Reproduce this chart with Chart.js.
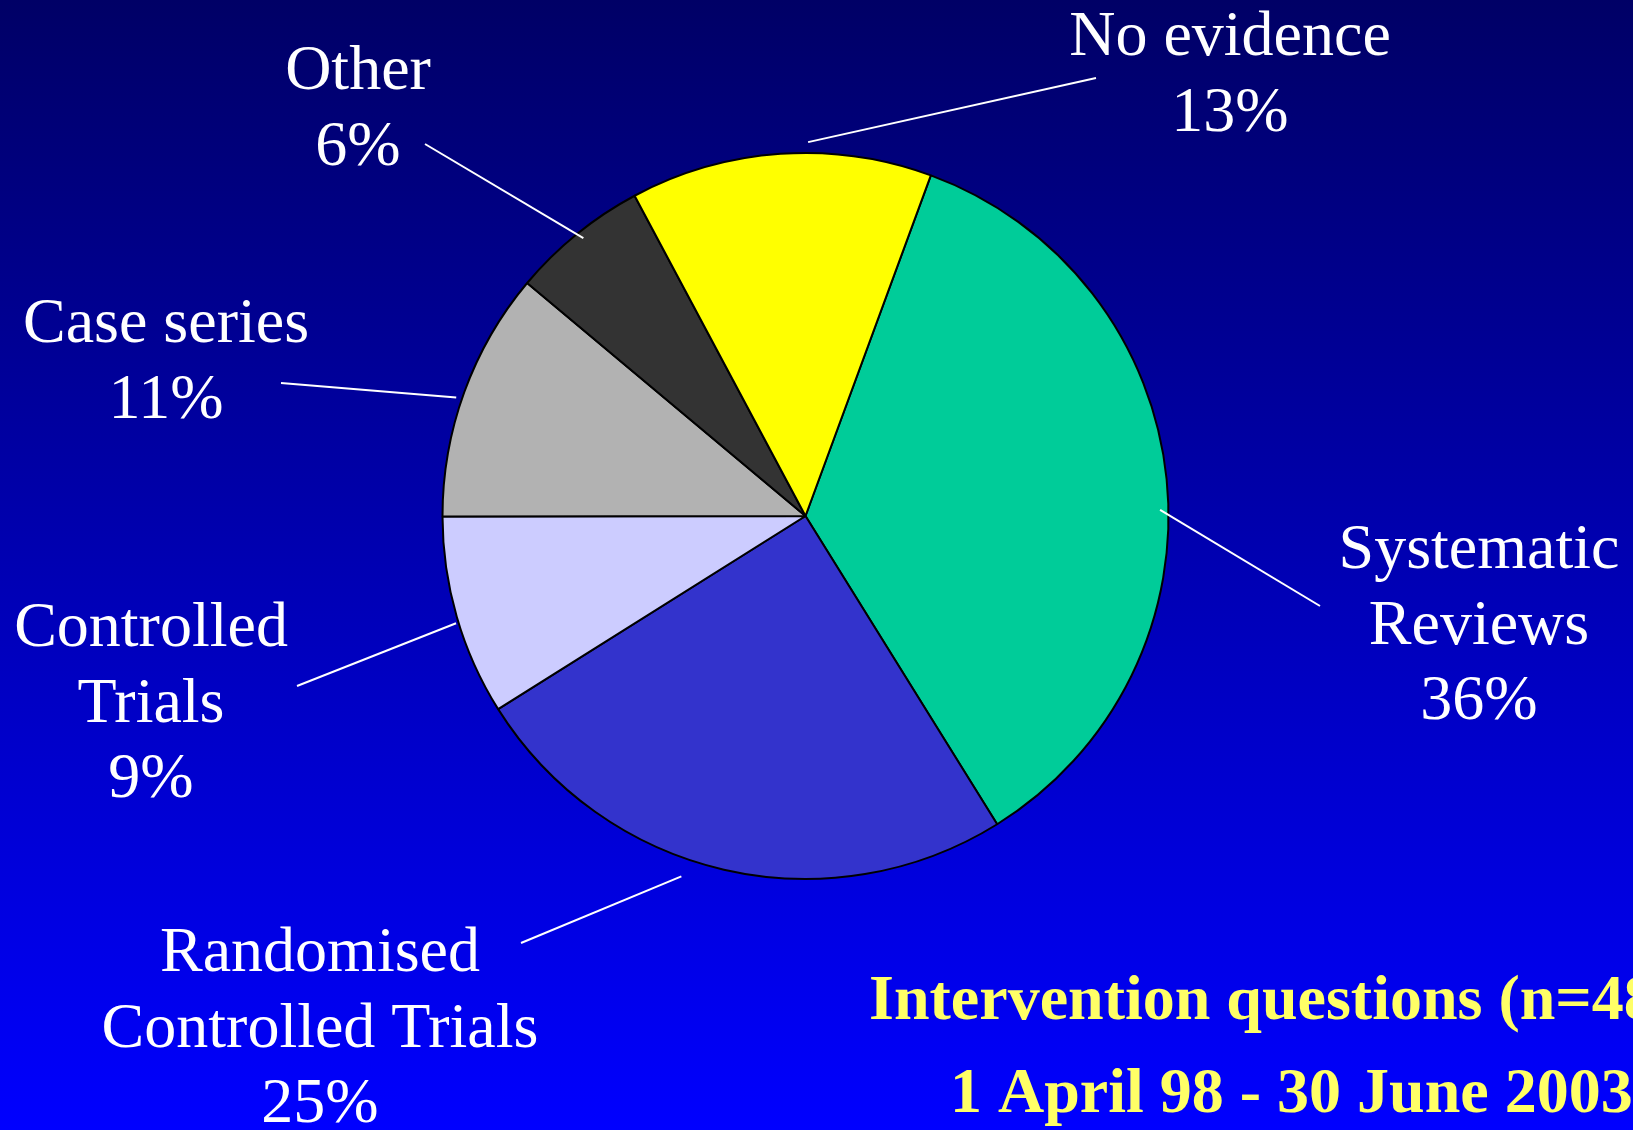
<!DOCTYPE html>
<html>
<head>
<meta charset="utf-8">
<script src="https://cdn.jsdelivr.net/npm/chart.js@4.4.0/dist/chart.umd.min.js"></script>
<style>
  html, body { margin: 0; padding: 0; background: #0000cc; overflow: hidden; }
  canvas { display: block; }
</style>
</head>
<body>
<canvas id="pie-chart" width="1633" height="1130"></canvas>
<script>
// slices (shares of the pie, labels shown rounded)
const categories = [["Systematic", "Reviews"], ["Randomised", "Controlled Trials"], ["Controlled", "Trials"], ["Case series"], ["Other"], ["No evidence"]];
const values = [35.5, 24.9, 8.9, 11.1, 6.1, 13.4];
const colors = ["#00CC99", "#3333CC", "#CCCCFF", "#B2B2B2", "#333333", "#FFFF00"];
const titleLines = ["Intervention questions (n=48", "1 April 98 - 30 June 2003"];

// where each label sits: text centre x, first baseline y,
// leader start (fraction along slice, radius factor) and leader end
const labelPos = [
  {x: 1479, y: 568, frac: 0.538, rf: 0.977, ex: 1320, ey: 606},
  {x: 320, y: 971, frac: 0.567, rf: 1.05, ex: 521, ey: 943},
  {x: 151, y: 646, frac: 0.47, rf: 1.007, ex: 297, ey: 686},
  {x: 166, y: 342, frac: 0.47, rf: 1.016, ex: 281, ey: 383},
  {x: 358, y: 89, frac: 0.52, rf: 0.98, ex: 425, ey: 144},
  {x: 1230, y: 55, frac: 0.59, rf: 1.03, ex: 1096, ey: 78}
];

const backdrop = {
  id: 'backdrop',
  beforeDraw(chart) {
    const {ctx, width, height} = chart;
    const g = ctx.createLinearGradient(0, 0, 0, height);
    g.addColorStop(0, '#000066');
    g.addColorStop(1, '#0000FF');
    ctx.save();
    ctx.fillStyle = g;
    ctx.fillRect(0, 0, width, height);
    ctx.restore();
  }
};

const calloutLabels = {
  id: 'calloutLabels',
  afterDraw(chart) {
    const ctx = chart.ctx;
    const arcs = chart.getDatasetMeta(0).data;
    const total = values.reduce((a, b) => a + b, 0);
    ctx.save();
    ctx.strokeStyle = '#FFFFFF';
    ctx.lineWidth = 2;
    ctx.fillStyle = '#FFFFFF';
    ctx.font = '64px "Liberation Serif", "Times New Roman", serif';
    ctx.textAlign = 'center';
    ctx.textBaseline = 'alphabetic';
    arcs.forEach((arc, i) => {
      const p = arc.getProps(['x', 'y', 'startAngle', 'endAngle', 'outerRadius'], true);
      const pos = labelPos[i];
      const a = p.startAngle + pos.frac * (p.endAngle - p.startAngle);
      const r = p.outerRadius * pos.rf;
      ctx.beginPath();
      ctx.moveTo(p.x + r * Math.cos(a), p.y + r * Math.sin(a));
      ctx.lineTo(pos.ex, pos.ey);
      ctx.stroke();
      const lines = categories[i].concat([Math.round(values[i] / total * 100) + '%']);
      lines.forEach((t, k) => ctx.fillText(t, pos.x, pos.y + k * 75.5));
    });
    ctx.fillStyle = '#FFFF66';
    ctx.font = 'bold 64px "Liberation Serif", "Times New Roman", serif';
    ctx.textAlign = 'left';
    ctx.fillText(titleLines[0], 869, 1019);
    ctx.fillText(titleLines[1], 950, 1112);
    ctx.restore();
  }
};

new Chart(document.getElementById("pie-chart"), {
  type: 'pie',
  data: {
    labels: categories.map(c => c.join(' ')),
    datasets: [{
      data: values,
      backgroundColor: colors,
      borderColor: '#000000',
      borderWidth: 2,
      hoverOffset: 0,
      offset: 0
    }]
  },
  options: {
    responsive: false,
    animation: false,
    events: [],
    rotation: 20.2,
    layout: {padding: {left: 441.5, right: 463.5, top: 152, bottom: 250}},
    plugins: {
      legend: {display: false},
      tooltip: {enabled: false}
    }
  },
  plugins: [backdrop, calloutLabels]
});
</script>
</body>
</html>
